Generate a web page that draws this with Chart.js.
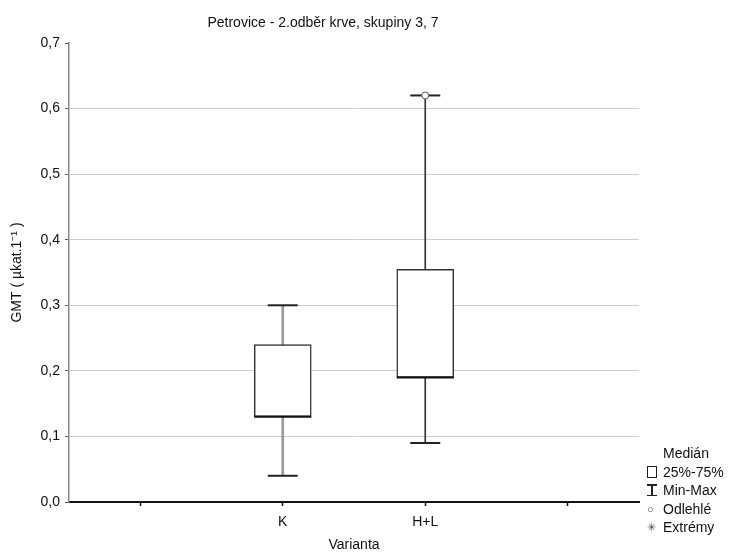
<!DOCTYPE html>
<html>
<head>
<meta charset="utf-8">
<script src="https://cdn.jsdelivr.net/npm/chart.js@4.4.1/dist/chart.umd.min.js"></script>
<style>
  body { margin: 0; background: #fff; font-family: "Liberation Sans", Arial, sans-serif; }
  #wrap { position: relative; width: 735px; height: 554px; }
  #title { position: absolute; left: 0; width: 646px; top: 14px; text-align: center; font-size: 14px; color: #111; }
  #legend { position: absolute; left: 645px; top: 444px; font-size: 14px; color: #111; line-height: 18.5px; }
  #legend div { position: relative; padding-left: 18px; white-space: nowrap; }
  .sq { position: absolute; left: 2px; top: 3px; width: 10px; height: 12px; border: 1px solid #222; box-sizing: border-box; }
  .ib { position: absolute; left: 6px; top: 3px; width: 1.5px; height: 12px; background: #222; }
  .ib:before, .ib:after { content: ""; position: absolute; left: -4px; width: 10px; height: 1.5px; background: #222; }
  .ib:before { top: 0; } .ib:after { bottom: 0; }
  .sym { position: absolute; left: 2px; top: 0; font-size: 11px; color: #444; }
</style>
</head>
<body>
<div id="wrap">
  <canvas id="myChart" width="735" height="554"></canvas>
  <div id="title">Petrovice - 2.odběr krve, skupiny 3, 7</div>
  <div id="legend">
    <div>Medián</div>
    <div><span class="sq"></span>25%-75%</div>
    <div><span class="ib"></span>Min-Max</div>
    <div><span class="sym">○</span>Odlehlé</div>
    <div><span class="sym">✳</span>Extrémy</div>
  </div>
</div>
<script>
  // categories (empty slots left and right like the original)
  const labels = ['', 'K', 'H+L', ''];
  const mins = [null, 0.04, 0.09, null];
  const q1s = [null, 0.13, 0.19, null];
  const medians = [null, 0.13, 0.19, null];
  const q3s = [null, 0.24, 0.355, null];
  const maxs = [null, 0.30, 0.62, null];
  const outliers = [null, null, 0.62, null];
  const yTicks = [0, 0.1, 0.2, 0.3, 0.4, 0.5, 0.6, 0.7];

  const ctx = document.getElementById('myChart');
  const fmt = v => v.toFixed(1).replace('.', ',');
  const tickFont = { family: 'Liberation Sans', size: 14 };

  // whisker min..max for one category only
  const whisker = idx => mins.map((m, i) => (m == null || i !== idx) ? null : [m, maxs[i]]);

  new Chart(ctx, {
    type: 'bar',
    data: {
      labels: labels,
      datasets: [
        { data: whisker(1), backgroundColor: '#9a9a9a', barThickness: 2, grouped: false, order: 5 },
        { data: whisker(2), backgroundColor: '#333', barThickness: 1, grouped: false, order: 5 },
        {
          // boxes q1..q3
          data: q1s.map((q, i) => q == null ? null : [q, q3s[i]]),
          backgroundColor: '#fff',
          borderColor: '#333',
          borderWidth: 1.5,
          borderSkipped: false,
          barThickness: 57,
          grouped: false,
          order: 4
        },
        {
          type: 'line', data: medians, showLine: false,
          pointStyle: 'line', pointRadius: 28.5, pointBorderWidth: 2, pointBorderColor: '#111',
          order: 2
        },
        {
          type: 'line', data: mins, showLine: false,
          pointStyle: 'line', pointRadius: 15, pointBorderWidth: 2, pointBorderColor: '#222',
          order: 1
        },
        {
          type: 'line', data: maxs, showLine: false,
          pointStyle: 'line', pointRadius: 15, pointBorderWidth: 2, pointBorderColor: '#222',
          order: 1
        },
        {
          type: 'line', data: outliers, showLine: false,
          pointStyle: 'circle', pointRadius: 3.5, pointBorderWidth: 1,
          pointBorderColor: '#555', pointBackgroundColor: '#fff',
          order: 0
        }
      ]
    },
    options: {
      responsive: false,
      animation: false,
      events: [],
      layout: { padding: { top: 43, right: 96, left: 0, bottom: 0 } },
      plugins: {
        legend: { display: false },
        tooltip: { enabled: false }
      },
      scales: {
        x: {
          offset: true,
          grid: { offset: false, drawOnChartArea: false, tickLength: 4, tickColor: '#111', tickWidth: 1.5 },
          border: { color: '#111', width: 2 },
          ticks: { color: '#111', padding: 8, font: tickFont },
          title: { display: true, text: 'Varianta', color: '#111', padding: { top: 0, bottom: 0 }, font: { family: 'Liberation Sans', size: 14 } },
          afterFit: s => { s.height = 52; }
        },
        y: {
          min: 0,
          max: 0.7,
          afterBuildTicks: s => { s.ticks = yTicks.map(v => ({ value: v })); },
          grid: {
            color: c => (c.tick.value > 0 && c.tick.value < 0.69) ? '#cfcfcf' : 'rgba(0,0,0,0)',
            tickColor: '#555',
            tickLength: 4
          },
          border: { color: '#888', width: 1.5 },
          ticks: { color: '#111', padding: 5, callback: v => fmt(v), font: tickFont },
          title: { display: true, text: 'GMT ( µkat.1⁻¹ )', color: '#111', padding: { top: 9, bottom: 0 }, font: { family: 'Liberation Sans', size: 14 } },
          afterFit: s => { s.width = 69; }
        }
      }
    }
  });
</script>
</body>
</html>
